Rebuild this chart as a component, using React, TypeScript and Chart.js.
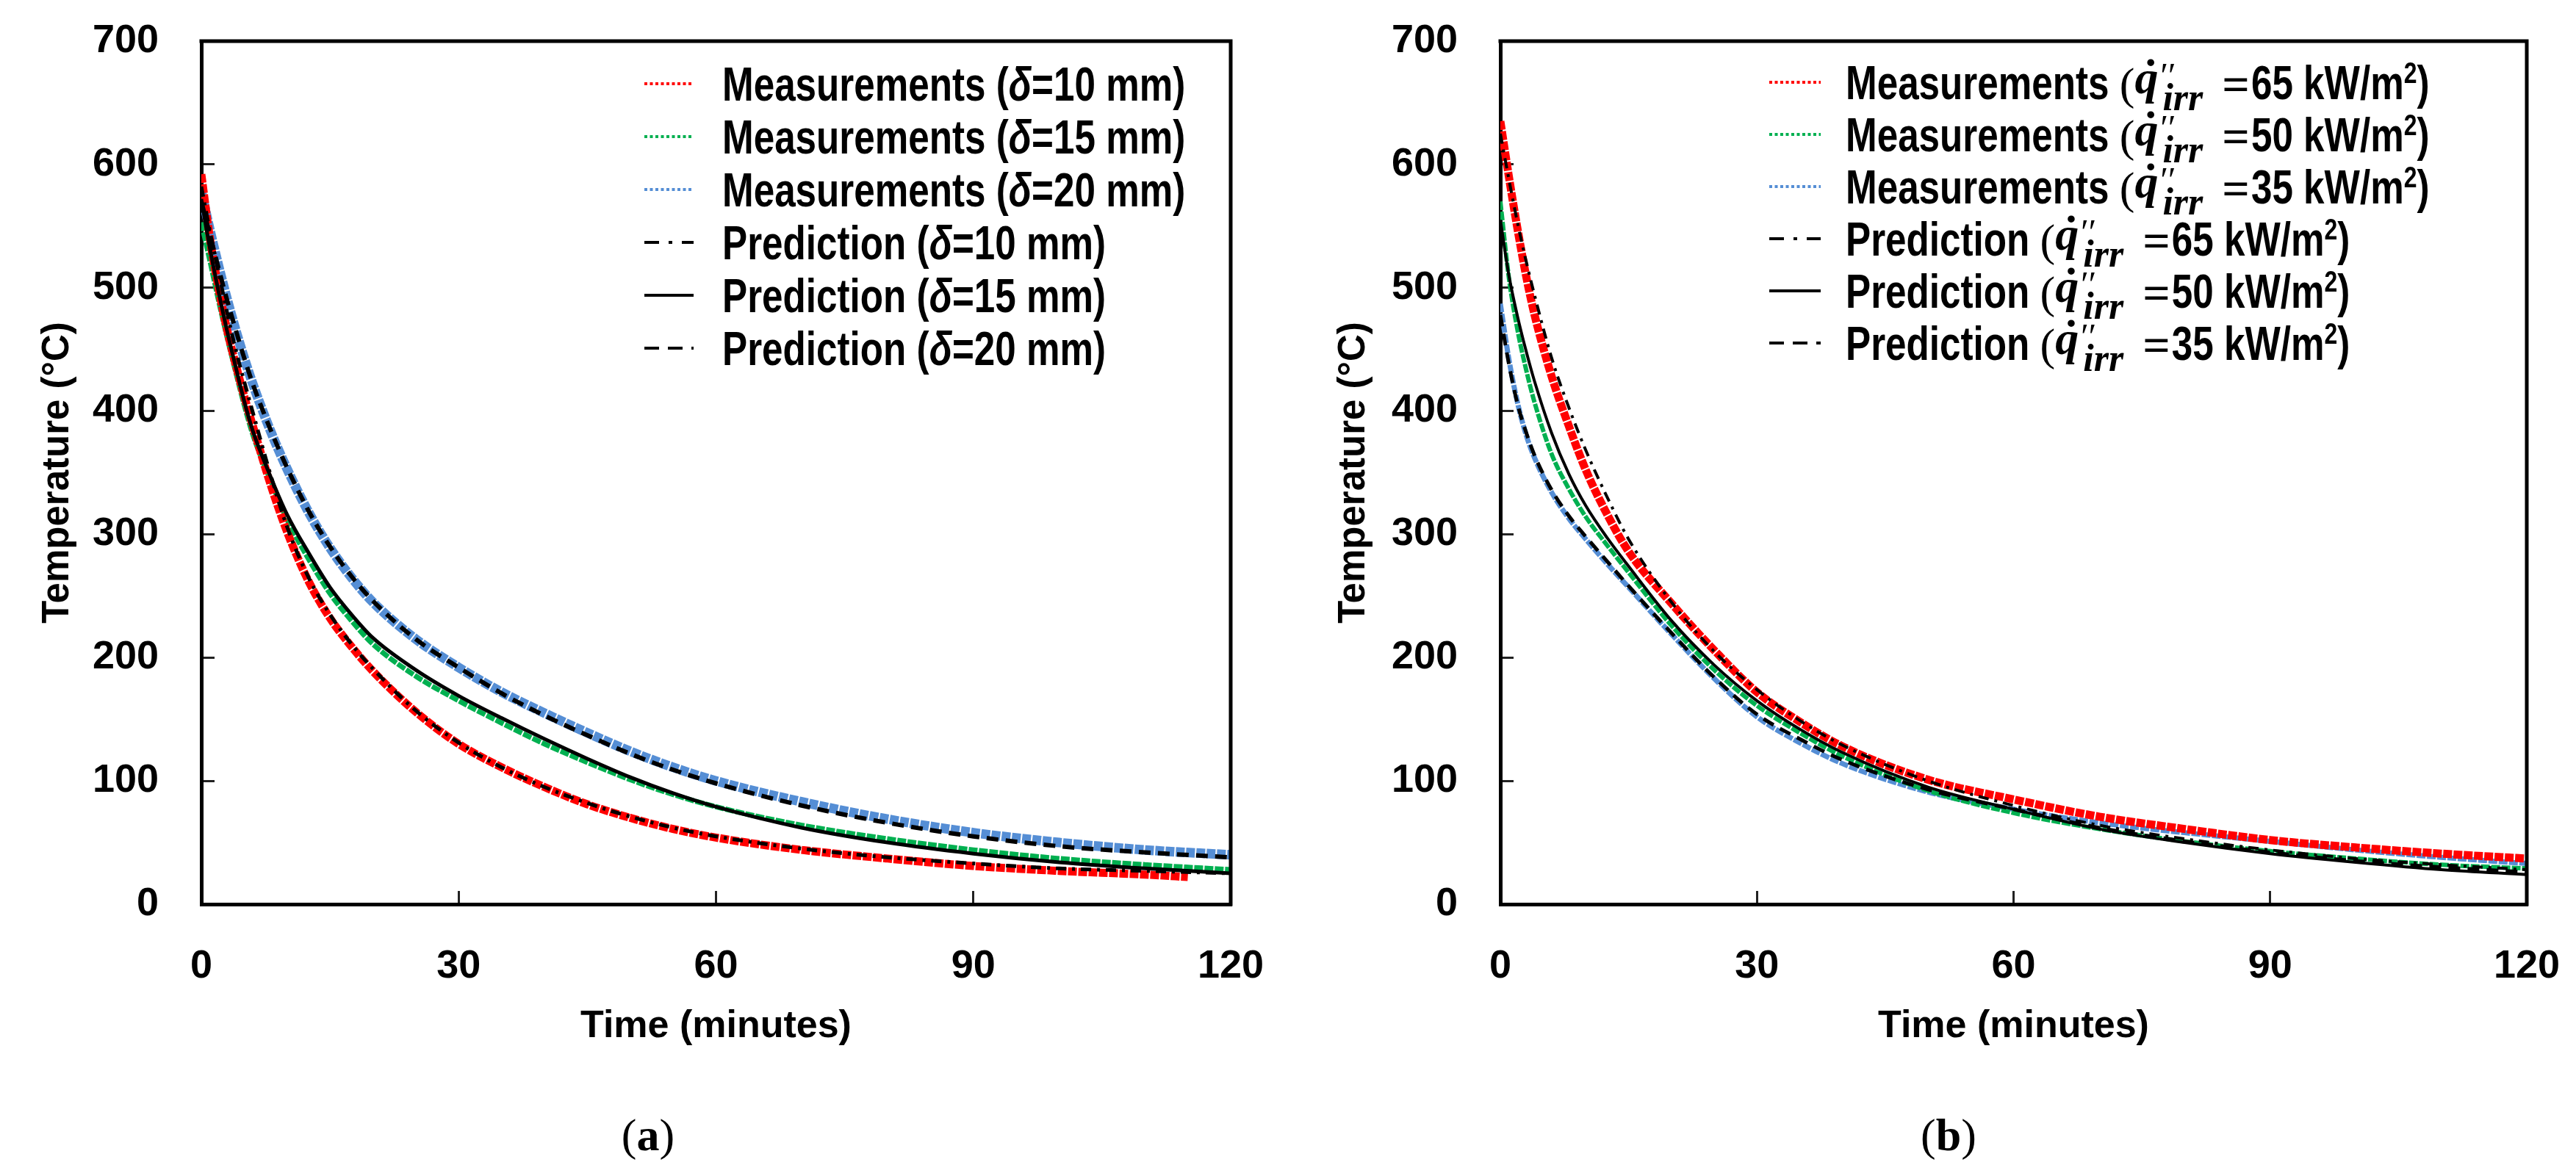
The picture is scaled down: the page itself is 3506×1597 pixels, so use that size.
import { useEffect, useRef } from 'react';
import Chart from 'chart.js/auto';

const SANS = '"Liberation Sans", Arial, sans-serif';
const SERIF = '"Liberation Serif", "DejaVu Serif", "Times New Roman", serif';

const RED = '#ff0000';
const GREEN = '#00b050';
const BLUE = '#558ed5';

const CANVAS_W = 1753;
const CANVAS_H = 1460;
const PLOT_TOP = 56;
const PLOT_BOTTOM = 1231;
const LEG = 64;
const NARROW = 0.8;

const xTicks = [0, 30, 60, 90, 120];
const yTicks = [0, 100, 200, 300, 400, 500, 600, 700];

// (a) cooling curves for three thicknesses, time in minutes
const timeA = [0, 1, 2, 3, 4, 5, 6, 8, 10, 12.5, 15, 17.5, 20, 25, 30, 35, 40, 45, 50, 55, 60, 70, 80, 90, 100, 110, 120];
const timeA10 = [0, 1, 2, 3, 4, 5, 6, 8, 10, 12.5, 15, 17.5, 20, 25, 30, 35, 40, 45, 50, 55, 60, 70, 80, 90, 100, 110, 115];
const thicknessA = ['10', '15', '20'];
const measA10 = [592, 540, 500, 466, 438, 412, 388, 342, 302, 262, 232, 209, 189, 156, 130, 111, 95, 81, 70, 61, 54, 44, 37, 31, 27, 24, 22];
const measA15 = [553, 522, 490, 460, 432, 405, 381, 345, 312, 280, 252, 230, 211, 185, 165, 147, 130, 115, 101, 89, 79, 64, 53, 44, 37, 32, 28];
const measA20 = [578, 547, 518, 491, 466, 443, 422, 385, 353, 318, 289, 265, 245, 215, 192, 172, 155, 139, 124, 111, 100, 83, 69, 58, 50, 44, 40];
const predA10 = [582, 546, 513, 480, 450, 424, 399, 350, 306, 265, 235, 211, 191, 157, 131, 111, 95, 82, 71, 62, 55, 45, 38, 33, 29, 27, 25];
const predA15 = [572, 532, 497, 465, 436, 408, 384, 348, 316, 285, 257, 235, 216, 190, 169, 151, 134, 118, 103, 90, 79, 62, 50, 41, 34, 29, 25];
const predA20 = [570, 543, 516, 490, 466, 443, 422, 386, 354, 319, 290, 266, 246, 215, 192, 171, 153, 137, 122, 109, 98, 80, 66, 55, 47, 42, 38];

// (b) cooling curves for three irradiance levels
const timeB = [0, 1, 2, 3, 4, 6, 8, 10, 12.5, 15, 20, 25, 30, 35, 40, 50, 60, 70, 80, 90, 100, 110, 120];
const fluxB = ['65', '50', '35'];
const measB65 = [635, 590, 548, 510, 478, 428, 388, 352, 316, 286, 244, 206, 172, 148, 128, 101, 85, 71, 61, 52, 46, 41, 37];
const measB50 = [570, 508, 466, 434, 407, 365, 337, 314, 291, 269, 226, 190, 161, 139, 120, 92, 74, 61, 51, 43, 37, 32, 29];
const measB35 = [487, 442, 407, 381, 362, 334, 313, 296, 276, 257, 219, 183, 152, 131, 114, 91, 77, 66, 58, 51, 44, 38, 33];
const predB65 = [625, 588, 553, 522, 494, 443, 403, 368, 330, 296, 245, 205, 174, 149, 129, 100, 80, 64, 53, 44, 37, 32, 28];
const predB50 = [555, 510, 477, 449, 424, 382, 349, 323, 297, 274, 230, 194, 165, 142, 123, 95, 77, 61, 50, 41, 34, 28, 24];
const predB35 = [478, 438, 406, 383, 364, 336, 315, 298, 278, 258, 220, 184, 154, 134, 117, 93, 77, 62, 51, 42, 35, 30, 26];

type Seg = { text: string; font: string; sx?: number; dx?: number; dy?: number; stay?: boolean };
type LegendItem = { color: string; width: number; dash: number[]; segs: Seg[] };
type LegendSpec = { lineX1: number; lineX2: number; textX: number; top: number; step: number; items: LegendItem[] };

const bold = `bold ${LEG}px ${SANS}`;

function deltaLabel(kind: string, d: string): Seg[] {
  return [
    { text: kind + ' (', font: bold, sx: NARROW },
    { text: 'δ', font: `italic bold ${LEG}px ${SANS}`, sx: NARROW },
    { text: '=' + d + ' mm)', font: bold, sx: NARROW },
  ];
}

function fluxLabel(kind: string, q: string): Seg[] {
  return [
    { text: kind + ' ', font: bold, sx: NARROW },
    { text: '(', font: `62px ${SERIF}` },
    { text: '\u02D9', font: `bold 64px ${SERIF}`, dx: 11, dy: -10, stay: true },
    { text: 'q', font: `italic bold 64px ${SERIF}`, dy: -8 },
    { text: '\u2032\u2032', font: `italic 48px ${SERIF}`, dx: 0, dy: -16, stay: true },
    { text: 'irr', font: `italic bold 52px ${SERIF}`, dx: 6, dy: 15 },
    { text: '=', font: `bold 66px ${SERIF}`, dx: 26, dy: 2 },
    { text: q + ' kW/m', font: bold, sx: NARROW, dx: 2 },
    { text: '2', font: `bold 40px ${SANS}`, sx: NARROW, dy: -22 },
    { text: ')', font: bold, sx: NARROW },
  ];
}

const plain = (segs: Seg[]) => segs.map((s) => s.text).join('');
const pts = (t: number[], v: number[]) => t.map((x, i) => ({ x, y: v[i] }));

const MEAS_DASH = [12, 2];
const DASHDOT = [20, 13, 5, 13];
const DASHED = [16, 10];

function measSet(segs: Seg[], t: number[], v: number[], color: string, width: number) {
  return {
    label: plain(segs), data: pts(t, v), borderColor: color, borderWidth: width,
    borderDash: MEAS_DASH, pointRadius: 0, cubicInterpolationMode: 'monotone', order: 1,
  };
}

function predSet(segs: Seg[], t: number[], v: number[], dash: number[], width: number) {
  return {
    label: plain(segs), data: pts(t, v), borderColor: '#000', borderWidth: width,
    borderDash: dash, pointRadius: 0, cubicInterpolationMode: 'monotone', order: 0,
  };
}

const labelsA = {
  m: thicknessA.map((d) => deltaLabel('Measurements', d)),
  p: thicknessA.map((d) => deltaLabel('Prediction', d)),
};
const labelsB = {
  m: fluxB.map((q) => fluxLabel('Measurements', q)),
  p: fluxB.map((q) => fluxLabel('Prediction', q)),
};

const legendItems = (l: { m: Seg[][]; p: Seg[][] }): LegendItem[] => [
  { color: RED, width: 4, dash: [4, 3.5], segs: l.m[0] },
  { color: GREEN, width: 4, dash: [4, 3.5], segs: l.m[1] },
  { color: BLUE, width: 4, dash: [4, 3.5], segs: l.m[2] },
  { color: '#000', width: 4, dash: DASHDOT, segs: l.p[0] },
  { color: '#000', width: 4, dash: [], segs: l.p[1] },
  { color: '#000', width: 4, dash: [20, 12], segs: l.p[2] },
];

type PanelSpec = {
  datasets: any[];
  yWidth: number;
  padRight: number;
  yTitlePad: number;
  legend: LegendSpec;
};

const specA: PanelSpec = {
  datasets: [
    measSet(labelsA.m[0], timeA10, measA10, RED, 11),
    measSet(labelsA.m[1], timeA, measA15, GREEN, 7),
    measSet(labelsA.m[2], timeA, measA20, BLUE, 13),
    predSet(labelsA.p[0], timeA, predA10, [14, 8, 4, 8], 5),
    predSet(labelsA.p[1], timeA, predA15, [], 5),
    predSet(labelsA.p[2], timeA, predA20, DASHED, 6),
  ],
  yWidth: 274,
  padRight: 78,
  yTitlePad: 48,
  legend: { lineX1: 877, lineX2: 944, textX: 983, top: 114, step: 72, items: legendItems(labelsA) },
};

const specB: PanelSpec = {
  datasets: [
    measSet(labelsB.m[0], timeB, measB65, RED, 11),
    measSet(labelsB.m[1], timeB, measB50, GREEN, 6),
    measSet(labelsB.m[2], timeB, measB35, BLUE, 7),
    predSet(labelsB.p[0], timeB, predB65, [14, 8, 4, 8], 4),
    predSet(labelsB.p[1], timeB, predB50, [], 4),
    predSet(labelsB.p[2], timeB, predB35, DASHED, 5),
  ],
  yWidth: 289,
  padRight: 67,
  yTitlePad: 59,
  legend: { lineX1: 655, lineX2: 725, textX: 759, top: 112, step: 71, items: legendItems(labelsB) },
};

const framePlugin = {
  id: 'frame',
  afterDatasetsDraw(chart: any) {
    const { ctx, chartArea: { left, right, top, bottom } } = chart;
    ctx.save();
    ctx.strokeStyle = '#000';
    ctx.lineWidth = 5;
    ctx.beginPath();
    ctx.moveTo(left - 2.5, top);
    ctx.lineTo(right, top);
    ctx.lineTo(right, bottom + 2.5);
    ctx.stroke();
    ctx.restore();
  },
};

function legendPlugin(spec: LegendSpec) {
  return {
    id: 'insetLegend',
    afterDraw(chart: any) {
      const { ctx } = chart;
      spec.items.forEach((item, i) => {
        const y = spec.top + i * spec.step;
        ctx.save();
        ctx.strokeStyle = item.color;
        ctx.lineWidth = item.width;
        ctx.setLineDash(item.dash);
        ctx.beginPath();
        ctx.moveTo(spec.lineX1, y);
        ctx.lineTo(spec.lineX2, y);
        ctx.stroke();
        ctx.setLineDash([]);
        ctx.fillStyle = '#000';
        ctx.textBaseline = 'alphabetic';
        ctx.textAlign = 'left';
        let x = spec.textX;
        const base = y + 23;
        for (const s of item.segs) {
          const sx = s.sx || 1;
          ctx.font = s.font;
          const w = ctx.measureText(s.text).width * sx;
          ctx.save();
          ctx.translate(x + (s.dx || 0), base + (s.dy || 0));
          ctx.scale(sx, 1);
          ctx.fillText(s.text, 0, 0);
          ctx.restore();
          if (!s.stay) x += w + (s.dx || 0);
        }
        ctx.restore();
      });
    },
  };
}

const tickFont = { family: SANS, size: 54, weight: 'bold' as const };

function makeConfig(p: PanelSpec): any {
  return {
    type: 'line',
    data: { datasets: p.datasets },
    options: {
      responsive: false,
      animation: false,
      devicePixelRatio: 1,
      layout: { autoPadding: false, padding: { top: PLOT_TOP, right: p.padRight, left: 0, bottom: 0 } },
      plugins: { legend: { display: false }, tooltip: { enabled: false } },
      scales: {
        x: {
          type: 'linear',
          min: 0,
          max: 120,
          afterBuildTicks: (s: any) => { s.ticks = xTicks.map((value) => ({ value })); },
          afterFit: (s: any) => {
            s.height = CANVAS_H - PLOT_BOTTOM;
            s.paddingLeft = 0;
            s.paddingRight = 0;
          },
          ticks: { color: '#000', font: tickFont, padding: 71, maxRotation: 0, autoSkip: false },
          grid: { drawOnChartArea: false, tickLength: -18, color: '#222', lineWidth: 3 },
          border: { color: '#000', width: 5 },
          title: {
            display: true, text: 'Time (minutes)', color: '#000',
            font: { family: SANS, size: 52, weight: 'bold' }, padding: { top: 0, bottom: 31 },
          },
        },
        y: {
          type: 'linear',
          min: 0,
          max: 700,
          afterBuildTicks: (s: any) => { s.ticks = yTicks.map((value) => ({ value })); },
          afterFit: (s: any) => {
            s.width = p.yWidth;
            s.paddingTop = 0;
            s.paddingBottom = 0;
          },
          ticks: { color: '#000', font: tickFont, padding: 76, autoSkip: false },
          grid: { drawOnChartArea: false, tickLength: -18, color: '#222', lineWidth: 3 },
          border: { color: '#000', width: 5 },
          title: {
            display: true, text: 'Temperature (°C)', color: '#000',
            font: { family: SANS, size: 51, weight: 'bold' }, padding: { top: p.yTitlePad, bottom: 0 },
          },
        },
      },
    },
    plugins: [framePlugin, legendPlugin(p.legend)],
  };
}

function Panel({ spec }: { spec: PanelSpec }) {
  const canvasRef = useRef<HTMLCanvasElement>(null);
  const chartRef = useRef<Chart | null>(null);

  useEffect(() => {
    if (!canvasRef.current) return;
    if (chartRef.current) chartRef.current.destroy();
    chartRef.current = new Chart(canvasRef.current, makeConfig(spec));
    return () => chartRef.current?.destroy();
  }, [spec]);

  return (
    <canvas
      ref={canvasRef}
      width={CANVAS_W}
      height={CANVAS_H}
      style={{ position: 'absolute', left: 0, top: 0, width: CANVAS_W, height: CANVAS_H }}
    />
  );
}

const captionStyle = (cx: number): React.CSSProperties => ({
  position: 'absolute',
  top: 1505,
  left: cx - 200,
  width: 400,
  textAlign: 'center',
  fontFamily: SERIF,
  fontSize: 62,
  lineHeight: '80px',
  color: '#000',
});

export default function App() {
  return (
    <div style={{ position: 'absolute', left: 0, top: 0, width: 3506, height: 1597, background: '#fff', overflow: 'hidden' }}>
      <div style={{ position: 'absolute', left: 0, top: 0, width: CANVAS_W, height: 1597 }}>
        <Panel spec={specA} />
        <div style={captionStyle(882)}>(<b>a</b>)</div>
      </div>
      <div style={{ position: 'absolute', left: CANVAS_W, top: 0, width: CANVAS_W, height: 1597 }}>
        <Panel spec={specB} />
        <div style={captionStyle(899)}>(<b>b</b>)</div>
      </div>
    </div>
  );
}
